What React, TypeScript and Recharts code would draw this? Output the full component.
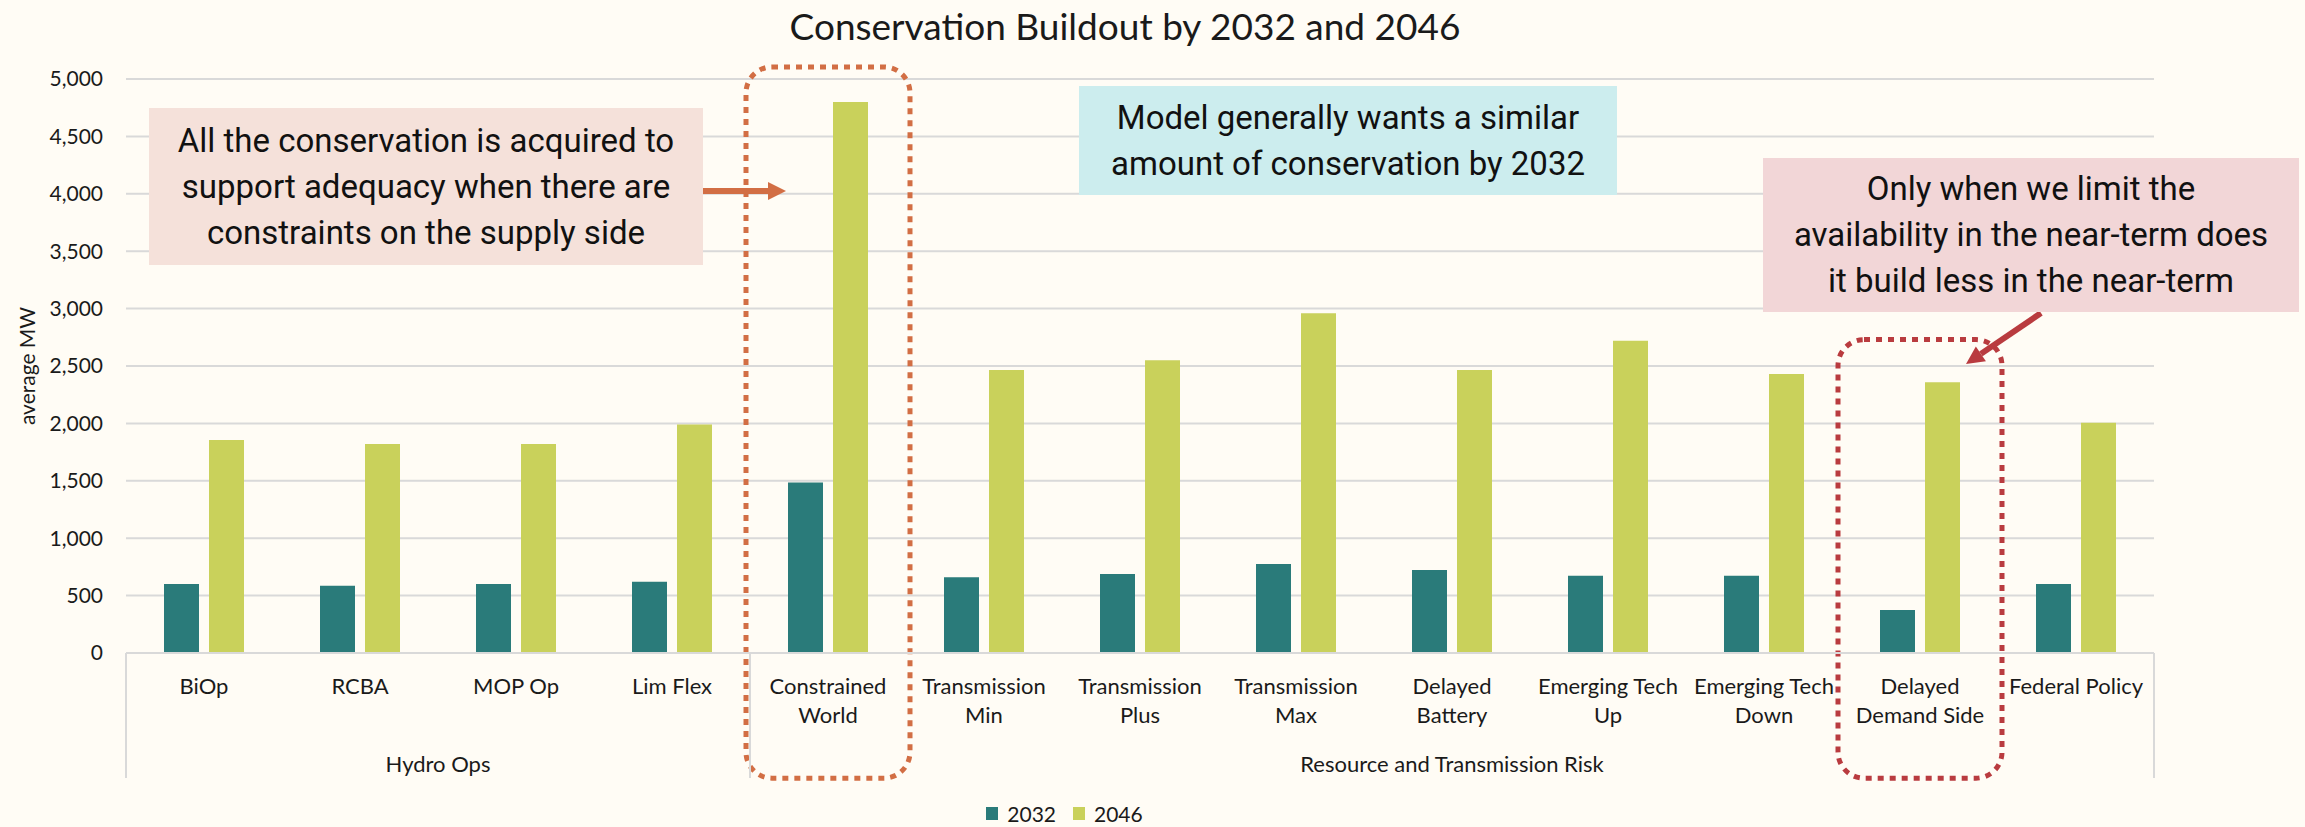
import React from 'react';
import { BarChart, Bar, XAxis, YAxis, CartesianGrid, Legend, ReferenceArea } from 'recharts';

const categories = [
  'BiOp', 'RCBA', 'MOP Op', 'Lim Flex', 'Constrained World', 'Transmission Min', 'Transmission Plus',
  'Transmission Max', 'Delayed Battery', 'Emerging Tech Up', 'Emerging Tech Down', 'Delayed Demand Side', 'Federal Policy',
];
const labelLines = [
  ['BiOp'], ['RCBA'], ['MOP Op'], ['Lim Flex'], ['Constrained', 'World'], ['Transmission', 'Min'], ['Transmission', 'Plus'],
  ['Transmission', 'Max'], ['Delayed', 'Battery'], ['Emerging Tech', 'Up'], ['Emerging Tech', 'Down'], ['Delayed', 'Demand Side'], ['Federal Policy'],
];
const groupNames = ['Hydro Ops', 'Resource and Transmission Risk'];
const groupSizes = [4, 9];
const mw2032 = [600, 585, 600, 620, 1485, 660, 688, 775, 723, 672, 672, 375, 600];
const mw2046 = [1855, 1820, 1820, 1990, 4800, 2465, 2550, 2960, 2465, 2720, 2430, 2358, 2005];
const yTicks = [0, 500, 1000, 1500, 2000, 2500, 3000, 3500, 4000, 4500, 5000];

const W = 2305;
const H = 827;
const BG = '#FFFCF5';
const TEAL = '#2A7B7A';
const GREEN = '#C9D15B';
const GRID = '#D9D9D9';
const TXT = '#1A1A1A';
const ORANGE = '#D26E44';
const RED = '#B93B3F';
const FONT = 'Lato, sans-serif';
const NARROW = "'Liberation Sans Narrow', 'Arial Narrow', Roboto, sans-serif";

const groupStarts = groupSizes.map((_, g) => groupSizes.slice(0, g).reduce((a, b) => a + b, 0));

function CategoryTick(props: any) {
  const { x, y, payload } = props;
  const i = payload.index;
  const half = payload.offset || 78;
  const lines = labelLines[i] || [payload.value];
  const g = groupStarts.indexOf(i);
  return (
    <g>
      {lines.map((t, k) => (
        <text key={k} x={x} y={y + 41 + k * 29} textAnchor="middle" fontSize={22} fill={TXT} fontFamily={FONT}>
          {t}
        </text>
      ))}
      {g >= 0 && (
        <>
          <line x1={x - half} x2={x - half} y1={y} y2={y + 125} stroke={GRID} strokeWidth={2} />
          <text x={x + (groupSizes[g] - 1) * half} y={y + 119} textAnchor="middle" fontSize={22} fill={TXT} fontFamily={FONT}>
            {groupNames[g]}
          </text>
        </>
      )}
      {i === categories.length - 1 && (
        <line x1={x + half} x2={x + half} y1={y} y2={y + 125} stroke={GRID} strokeWidth={2} />
      )}
    </g>
  );
}

const dottedBox = (color: string) => (p: any) => (
  <rect x={p.x - 4} y={p.y} width={p.width + 8} height={p.height} rx={26} ry={26}
    fill="none" stroke={color} strokeWidth={5} strokeDasharray="6 6" />
);

function Arrow({ x1, y1, x2, y2, color }: { x1: number; y1: number; x2: number; y2: number; color: string }) {
  const dx = x2 - x1;
  const dy = y2 - y1;
  const len = Math.sqrt(dx * dx + dy * dy);
  const ux = dx / len;
  const uy = dy / len;
  const hl = 18;
  const hw = 9;
  const bx = x2 - ux * hl;
  const by = y2 - uy * hl;
  const pts = `${x2},${y2} ${bx - uy * hw},${by + ux * hw} ${bx + uy * hw},${by - ux * hw}`;
  return (
    <g>
      <line x1={x1} y1={y1} x2={bx} y2={by} stroke={color} strokeWidth={6} />
      <polygon points={pts} fill={color} />
    </g>
  );
}

const noteStyle = (left: number, top: number, width: number, height: number, bg: string): React.CSSProperties => ({
  position: 'absolute', left, top, width, height, background: bg, display: 'flex', flexDirection: 'column',
  alignItems: 'center', justifyContent: 'center', fontFamily: NARROW, fontSize: 33, lineHeight: '46px', color: '#111',
  textAlign: 'center',
});

function LegendContent() {
  return (
    <div style={{ display: 'flex', justifyContent: 'center', alignItems: 'center', height: 28, fontFamily: FONT, fontSize: 21, color: TXT }}>
      {[['2032', TEAL], ['2046', GREEN]].map(([name, c]) => (
        <div key={name} style={{ display: 'flex', alignItems: 'center', marginRight: 17 }}>
          <span style={{ width: 12, height: 13, background: c, marginRight: 9, display: 'inline-block' }} />
          <span>{name}</span>
        </div>
      ))}
    </div>
  );
}

export default function App() {
  const data = categories.map((name, i) => ({ name, y2032: mw2032[i], y2046: mw2046[i] }));
  return (
    <div style={{ position: 'absolute', left: 0, top: 0, width: W, height: H, background: BG, overflow: 'hidden', fontFamily: FONT }}>
      <div style={{ position: 'absolute', left: 0, top: 5, width: 2250, textAlign: 'center', fontSize: 37, lineHeight: '42px', color: TXT }}>
        Conservation Buildout by 2032 and 2046
      </div>
      <BarChart width={W} height={H} data={data} margin={{ top: 79, right: 151, bottom: 0, left: 0 }} barGap={10} barSize={35}>
        <CartesianGrid vertical={false} stroke={GRID} strokeWidth={2} />
        <XAxis dataKey="name" interval={0} tickLine={false} tickSize={0} tickMargin={0} height={146}
          axisLine={{ stroke: GRID, strokeWidth: 2 }} tick={<CategoryTick />} />
        <YAxis domain={[0, 5000]} ticks={yTicks} width={126} axisLine={false} tickLine={false} tickSize={0} tickMargin={23}
          tickFormatter={(v: number) => v.toLocaleString('en-US')}
          tick={{ fill: TXT, fontSize: 21, fontFamily: FONT }}
          label={{
            content: (p: any) => {
              const vb = p.viewBox || { y: 79, height: 574 };
              const cy = vb.y + vb.height / 2;
              return (
                <text x={26} y={cy} transform={`rotate(-90 26 ${cy})`} textAnchor="middle" dominantBaseline="central"
                  fontSize={21} fill={TXT} fontFamily={FONT}>average MW</text>
              );
            },
          }} />
        <Legend verticalAlign="bottom" content={<LegendContent />} wrapperStyle={{ left: 0, width: 2146 }} />
        <Bar dataKey="y2032" name="2032" fill={TEAL} isAnimationActive={false} />
        <Bar dataKey="y2046" name="2046" fill={GREEN} isAnimationActive={false} />
        <ReferenceArea x1="Constrained World" x2="Constrained World" y1={-1090} y2={5105} ifOverflow="visible" shape={dottedBox(ORANGE)} />
        <ReferenceArea x1="Delayed Demand Side" x2="Delayed Demand Side" y1={-1090} y2={2730} ifOverflow="visible" shape={dottedBox(RED)} />
      </BarChart>
      <svg width={W} height={H} style={{ position: 'absolute', left: 0, top: 0, pointerEvents: 'none' }}>
        <Arrow x1={703} y1={191} x2={786} y2={191} color={ORANGE} />
        <Arrow x1={2041} y1={313} x2={1966} y2={364} color={RED} />
      </svg>
      <div style={noteStyle(149, 108, 554, 157, '#F5E1DA')}>
        <div>All the conservation is acquired to</div>
        <div>support adequacy when there are</div>
        <div>constraints on the supply side</div>
      </div>
      <div style={noteStyle(1079, 86, 538, 109, '#CCEDEE')}>
        <div>Model generally wants a similar</div>
        <div>amount of conservation by 2032</div>
      </div>
      <div style={noteStyle(1763, 158, 536, 154, '#F2D6D7')}>
        <div>Only when we limit the</div>
        <div>availability in the near-term does</div>
        <div>it build less in the near-term</div>
      </div>
    </div>
  );
}
